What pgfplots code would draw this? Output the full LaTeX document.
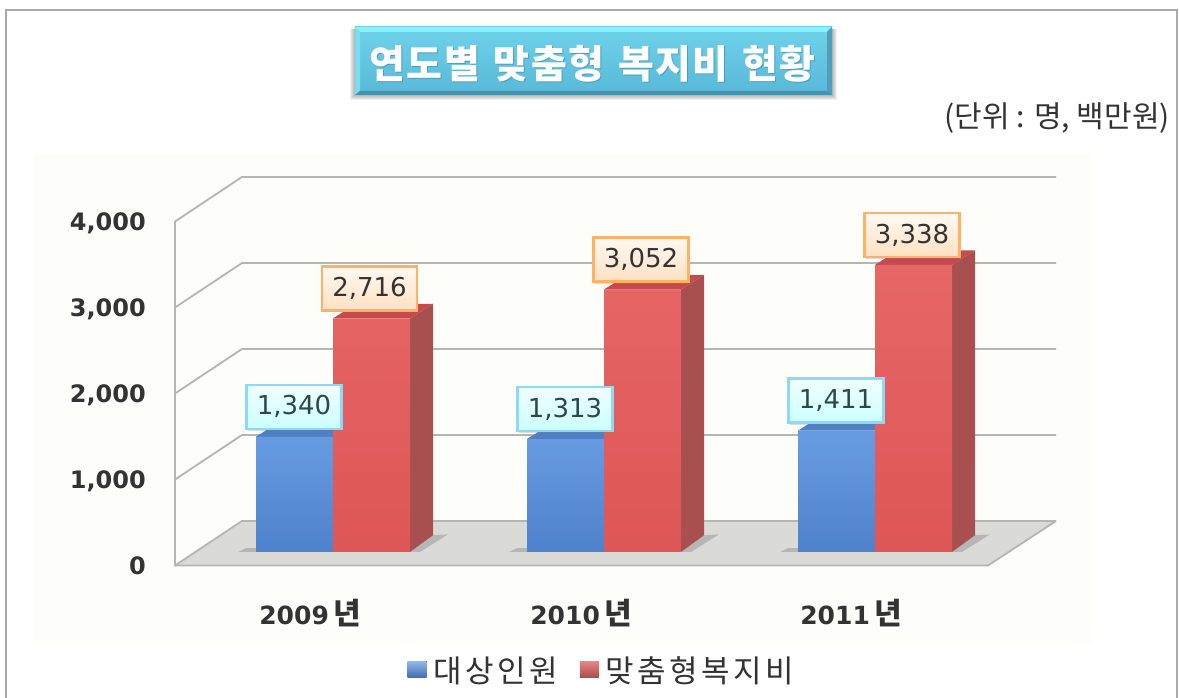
\documentclass[border=0pt]{standalone}
\usepackage{fontspec}
\setmainfont{DejaVu Sans}
\newfontfamily\kr{Noto Sans CJK KR}
\newfontfamily\krs{Noto Sans CJK KR}[LetterSpace=11]
\newfontfamily\krt{Noto Sans CJK KR}[LetterSpace=4,WordSpace=1.3]
\usepackage{pgfplots}
\pgfplotsset{compat=1.18}
\usetikzlibrary{shadows}
\definecolor{frame}{HTML}{A9ABAB}
\definecolor{cream}{HTML}{FDFEFA}
\definecolor{gridc}{HTML}{B5B6B2}
\definecolor{floorc}{HTML}{DADBD7}
\definecolor{blueT}{HTML}{689CE2}
\definecolor{blueM}{HTML}{5D90D6}
\definecolor{blueB}{HTML}{4F82CC}
\definecolor{blueTop}{HTML}{4F7FC4}
\definecolor{redT}{HTML}{E76666}
\definecolor{redM}{HTML}{CE5B5B}
\definecolor{redB}{HTML}{DE5656}
\definecolor{redS}{HTML}{A85050}
\definecolor{redTop}{HTML}{C44B4B}
\definecolor{ink}{HTML}{333333}
\definecolor{titleT}{HTML}{6FD2EA}
\definecolor{titleB}{HTML}{58B8D8}
\definecolor{titleTop}{HTML}{8CF0FB}
\definecolor{titleLeft}{HTML}{7ADCEF}
\definecolor{titleRight}{HTML}{4F9FBC}
\definecolor{titleBot}{HTML}{4592AC}
\newcommand{\fs}[1]{\fontsize{#1}{#1}\selectfont}
\begin{document}
\begin{tikzpicture}
\useasboundingbox (0,0) rectangle (1179pt,698pt);
\begin{scope}[x=1pt,y=-1pt,yshift=698pt]
  \fill[white] (0,0) rectangle (1179,698);
  \fill[cream] (33,153) rectangle (1092,642);
  \draw[frame,line width=2.5pt] (6,698) -- (6,10) -- (1177,10) -- (1177,698);
\end{scope}
\begin{axis}[
  at={(0,0)},anchor=south west,
  scale only axis,width=1179pt,height=698pt,
  xmin=0,xmax=1179,ymin=-1697.67,ymax=6418.6,
  hide axis,clip=false,
  /pgf/number format/assume math mode=true,
  /pgf/number format/1000 sep={,},
  legend style={at={(0.5105,0.04)},anchor=center,draw=none,fill=none,
    legend columns=2,font=\krs\fs{31}\color{ink},
    inner sep=0pt,outer sep=0pt,
    /tikz/every even column/.append style={column sep=20pt}},
]
% floor
\addplot[forget plot,fill=floorc,draw=none] coordinates {(175,-157) (242,360.5) (1056,360.5) (988,-157)} --cycle;
% grid walls
\addplot[forget plot,gridc,line width=1.8pt] coordinates {(175,843) (242,1360.5) (1056,1360.5)};
\addplot[forget plot,gridc,line width=1.8pt] coordinates {(175,1843) (242,2360.5) (1056,2360.5)};
\addplot[forget plot,gridc,line width=1.8pt] coordinates {(175,2843) (242,3360.5) (1056,3360.5)};
\addplot[forget plot,gridc,line width=1.8pt] coordinates {(175,3843) (242,4360.5) (1056,4360.5)};
\addplot[forget plot,gridc,line width=1.8pt] coordinates {(175,-157) (242,360.5) (1056,360.5) };
\addplot[forget plot,gridc,line width=1.8pt] coordinates {(175,3843) (175,-157) (988,-157) (1056,360.5)};
% floor shadows
\addplot[forget plot,fill=gray,fill opacity=.4,draw=none] coordinates {(238,0) (256,0) (256,45) (246,45)} --cycle;
\addplot[forget plot,fill=gray,fill opacity=.4,draw=none] coordinates {(410,0) (433,195) (448,205) (420,0)} --cycle;
\addplot[forget plot,fill=gray,fill opacity=.4,draw=none] coordinates {(509,0) (527,0) (527,45) (517,45)} --cycle;
\addplot[forget plot,fill=gray,fill opacity=.4,draw=none] coordinates {(681,0) (704,195) (719,205) (691,0)} --cycle;
\addplot[forget plot,fill=gray,fill opacity=.4,draw=none] coordinates {(780,0) (798,0) (798,45) (788,45)} --cycle;
\addplot[forget plot,fill=gray,fill opacity=.4,draw=none] coordinates {(952,0) (975,195) (990,205) (962,0)} --cycle;
% blue series: tops
\addplot[forget plot,fill=blueTop,draw=none] coordinates {(256,1340) (333,1340) (356,1510) (279,1510)} --cycle;
\addplot[forget plot,fill=blueTop,draw=none] coordinates {(527,1313) (604,1313) (627,1483) (550,1483)} --cycle;
\addplot[forget plot,fill=blueTop,draw=none] coordinates {(798,1411) (875,1411) (898,1581) (821,1581)} --cycle;
% blue fronts
\addplot[forget plot,ybar,bar width=77,bar shift=0pt,draw=none,top color=blueT,middle color=blueM,bottom color=blueB]
  coordinates {(294.5,1340) (565.5,1313) (836.5,1411)};
% red sides and tops
\addplot[forget plot,fill=redS,draw=none] coordinates {(410,0) (433,195) (433,2886) (410,2716)} --cycle;
\addplot[forget plot,fill=redS,draw=none] coordinates {(681,0) (704,195) (704,3222) (681,3052)} --cycle;
\addplot[forget plot,fill=redS,draw=none] coordinates {(952,0) (975,195) (975,3508) (952,3338)} --cycle;
\addplot[forget plot,fill=redTop,draw=none] coordinates {(333,2716) (410,2716) (433,2886) (356,2886)} --cycle;
\addplot[forget plot,fill=redTop,draw=none] coordinates {(604,3052) (681,3052) (704,3222) (627,3222)} --cycle;
\addplot[forget plot,fill=redTop,draw=none] coordinates {(875,3338) (952,3338) (975,3508) (898,3508)} --cycle;
% red fronts
\addplot[forget plot,ybar,bar width=77,bar shift=0pt,draw=none,top color=redT,middle color=redM,bottom color=redB]
  coordinates {(371.5,2716) (642.5,3052) (913.5,3338)};
% value labels
\addplot[forget plot,draw=none,mark=none,nodes near coords,
  nodes near coords style={anchor=center,yshift=30pt,font=\fs{26},text=ink!90!cyan,
    minimum width=95pt,minimum height=44pt,inner sep=0pt,draw=cyan!45!white,line width=2.4pt,
    top color=cyan!6!white,bottom color=cyan!20!white,
    drop shadow={opacity=.25,shadow xshift=1pt,shadow yshift=-2pt}}]
  coordinates {(294,1340) (565,1313) (836,1411)};
\addplot[forget plot,draw=none,mark=none,nodes near coords,
  nodes near coords style={anchor=center,yshift=30pt,font=\fs{26},text=ink,
    minimum width=95pt,minimum height=44pt,inner sep=0pt,draw=orange!60!white,line width=2.4pt,
    top color=orange!5!white,bottom color=orange!24!white,
    drop shadow={opacity=.25,shadow xshift=1pt,shadow yshift=-2pt}}]
  coordinates {(369.5,2716) (641,3052) (912,3338)};
% axis tick labels
\node[anchor=base east,inner sep=0pt,font=\bfseries\fs{24},text=ink] at (axis cs:146,-262) {0};
\node[anchor=base east,inner sep=0pt,font=\bfseries\fs{24},text=ink] at (axis cs:146,738) {1,000};
\node[anchor=base east,inner sep=0pt,font=\bfseries\fs{24},text=ink] at (axis cs:146,1738) {2,000};
\node[anchor=base east,inner sep=0pt,font=\bfseries\fs{24},text=ink] at (axis cs:146,2738) {3,000};
\node[anchor=base east,inner sep=0pt,font=\bfseries\fs{24},text=ink] at (axis cs:146,3738) {4,000};
\node[font=\bfseries\fs{25},text=ink] at (axis cs:310,-711) {2009\,{\kr\fs{30}년}};
\node[font=\bfseries\fs{25},text=ink] at (axis cs:581,-711) {2010\,{\kr\fs{30}년}};
\node[font=\bfseries\fs{25},text=ink] at (axis cs:851,-711) {2011\,{\kr\fs{30}년}};
% legend
\addlegendimage{legend image code/.code={\path[draw=none] (0pt,0pt) -- (24pt,0pt);\fill[draw=none,top color=blueT!70!white,bottom color=blueB!85!black] (0pt,-7pt) rectangle (19pt,9pt);}}
\addlegendentry{대상인원}
\addlegendimage{legend image code/.code={\path[draw=none] (0pt,0pt) -- (24pt,0pt);\fill[draw=none,top color=redT!80!white,bottom color=redS] (0pt,-7pt) rectangle (19pt,9pt);}}
\addlegendentry{맞춤형복지비}
\end{axis}
\begin{scope}[x=1pt,y=-1pt,yshift=698pt]
  % title box
  \foreach \o in {5,4,3,2,1}{\fill[black,opacity=.06] (355-\o,29) rectangle (832+\o,95+\o);}
  \shade[top color=titleT,bottom color=titleB] (355,27) rectangle (832,95);
  \fill[titleTop] (355,27) -- (832,27) -- (827,32) -- (360,32) -- cycle;
  \fill[titleLeft] (355,27) -- (360,32) -- (360,91) -- (355,95) -- cycle;
  \fill[titleRight] (832,27) -- (827,32) -- (827,91) -- (832,95) -- cycle;
  \fill[titleBot] (355,95) -- (360,91) -- (827,91) -- (832,95) -- cycle;
  \node[font=\krt\bfseries\fs{39},text=titleRight,inner sep=0pt] at (593.5,65) {연도별 맞춤형 복지비 현황};
  \node[font=\krt\bfseries\fs{39},text=white,inner sep=0pt] at (592.5,64) {연도별 맞춤형 복지비 현황};
  \node[font=\kr\fs{30},text=ink,anchor=east,inner sep=0pt] at (1170,118) {(단위 : 명, 백만원)};
\end{scope}
\end{tikzpicture}
\end{document}
